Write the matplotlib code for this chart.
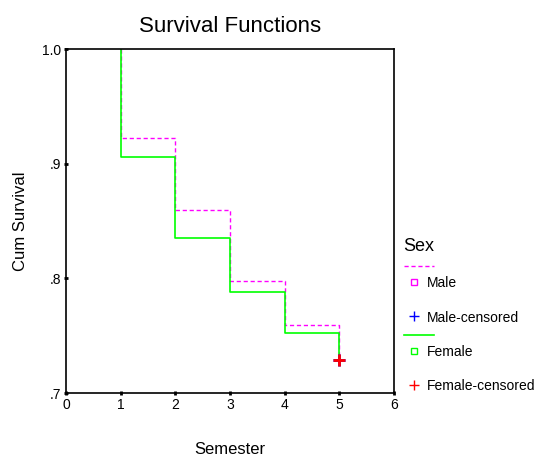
import numpy as np
import matplotlib
matplotlib.use("Agg")
from matplotlib import pyplot as plt
from matplotlib.lines import Line2D

# Kaplan-Meier estimates
semester = [0, 1, 2, 3, 4, 5]
male_surv = [1.0, 0.9227, 0.8596, 0.798, 0.7593, 0.729]
female_surv = [1.0, 0.9061, 0.8355, 0.7881, 0.7526, 0.729]
censor_time = [5]
male_censor = [0.729]
female_censor = [0.729]

yticks = [0.7, 0.8, 0.9, 1.0]
ytick_labels = ['.7', '.8', '.9', '1.0']
xticks = [0, 1, 2, 3, 4, 5, 6]

plt.rcParams['font.family'] = ['Liberation Sans', 'DejaVu Sans']

fig = plt.figure(figsize=(5.39, 4.65), dpi=100)
ax = fig.add_axes([0.1225, 0.1548, 0.6085, 0.7398])

# curves start at the first event time; repeat it so the drop from 1.0 is drawn
step_x = [semester[1]] + semester[1:]
ax.step(step_x, male_surv, where='post', color='#ff00ff',
        linestyle=(0, (3, 2)), linewidth=1)
ax.step(step_x, female_surv, where='post', color='#00ff00', linewidth=1.2)

ax.plot(censor_time, male_censor, '+', color='#0000ff', markersize=9, markeredgewidth=2)
ax.plot(censor_time, female_censor, '+', color='#ff0000', markersize=9, markeredgewidth=2)

ax.set_xlim(0, 6)
ax.set_ylim(0.7, 1.0)
ax.set_xticks(xticks)
ax.set_yticks(yticks)
ax.set_yticklabels(ytick_labels)
ax.tick_params(direction='inout', length=3, width=2, labelsize=10, pad=2)
for s in ax.spines.values():
    s.set_linewidth(1.2)

ax.set_title('Survival Functions', fontsize=16, pad=12)
ax.set_xlabel('Semester', fontsize=12, labelpad=22)
ax.set_ylabel('Cum Survival', fontsize=12, labelpad=10)

# legend drawn by hand, to the right of the plot
W, H = 539.0, 465.0
def fx(px):
    return px / W
def fy(py):
    return 1 - py / H

fig.text(fx(403), fy(246), 'Sex', fontsize=13, va='center', ha='left')
fig.add_artist(Line2D([fx(404), fx(434)], [fy(266), fy(266)], color='#ff00ff',
                      linestyle=(0, (3, 2)), linewidth=1))
fig.add_artist(Line2D([fx(414)], [fy(282)], marker='s', markersize=4,
                      markerfacecolor='white', markeredgecolor='#ff00ff', linestyle='none'))
fig.text(fx(427), fy(283), 'Male', fontsize=10, va='center')
fig.add_artist(Line2D([fx(414)], [fy(316)], marker='+', markersize=7,
                      color='#0000ff', linestyle='none'))
fig.text(fx(427), fy(318), 'Male-censored', fontsize=10, va='center')
fig.add_artist(Line2D([fx(404), fx(434)], [fy(335), fy(335)], color='#00ff00', linewidth=1.2))
fig.add_artist(Line2D([fx(414)], [fy(351)], marker='s', markersize=4,
                      markerfacecolor='white', markeredgecolor='#00ff00', linestyle='none'))
fig.text(fx(427), fy(352), 'Female', fontsize=10, va='center')
fig.add_artist(Line2D([fx(414)], [fy(385)], marker='+', markersize=7,
                      color='#ff0000', linestyle='none'))
fig.text(fx(427), fy(386), 'Female-censored', fontsize=10, va='center')

fig.savefig('out.png', dpi=100)
